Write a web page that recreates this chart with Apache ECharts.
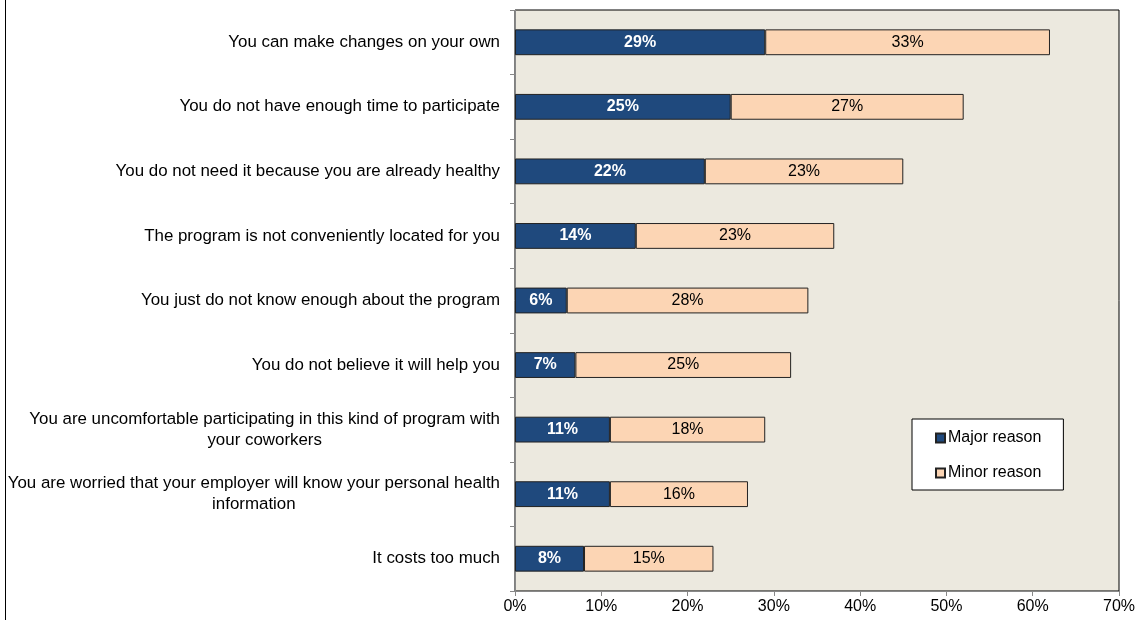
<!DOCTYPE html>
<html><head><meta charset="utf-8">
<script src="https://cdn.jsdelivr.net/npm/echarts@6/dist/echarts.min.js"></script>
<style>html,body{margin:0;padding:0;background:#fff}#c{width:1140px;height:620px}</style>
</head><body><div id="c"></div>
<script>
const categories = [
  "You can make changes on your own",
  "You do not have enough time to participate",
  "You do not need it because you are already healthy",
  "The program is not conveniently located for you",
  "You just do not know enough about the program",
  "You do not believe it will help you",
  "You are uncomfortable participating in this kind of program with\nyour coworkers",
  "You are worried that your employer will know your personal health\ninformation",
  "It costs too much"
];
const majorReason = [29, 25, 22, 14, 6, 7, 11, 11, 8];
const minorReason = [33, 27, 23, 23, 28, 25, 18, 16, 15];
const seriesNames = ["Major reason", "Minor reason"];
const xTicks = [0, 10, 20, 30, 40, 50, 60, 70];

const chart = echarts.init(document.getElementById('c'), null, {renderer: 'canvas'});
const FONT = '"Liberation Sans", Arial, sans-serif';
chart.setOption({
  animation: false,
  textStyle: {fontFamily: FONT},
  graphic: [{type: 'line', shape: {x1: 5.5, y1: 0, x2: 5.5, y2: 620}, style: {stroke: '#000', lineWidth: 1}}],
  grid: {left: 515, right: 21, top: 10, bottom: 29, backgroundColor: '#ECE9DF', show: true, borderColor: '#000', borderWidth: 1},
  legend: {
    orient: 'vertical', left: 912, top: 419,
    padding: [11, 22, 9, 23], itemGap: 19,
    backgroundColor: '#fff', borderColor: '#000', borderWidth: 1,
    itemWidth: 9, itemHeight: 9, icon: 'rect',
    textStyle: {fontSize: 16, color: '#000', fontFamily: FONT, padding: [0, 0, 0, -2]},
    data: seriesNames
  },
  xAxis: {
    type: 'value', min: 0, max: 70, interval: 10,
    axisLine: {show: true, lineStyle: {color: '#888'}},
    axisTick: {show: true, length: 5, lineStyle: {color: '#888'}},
    splitLine: {show: false},
    axisLabel: {fontSize: 16, color: '#000', margin: 8, formatter: v => xTicks.includes(v) ? v + '%' : ''}
  },
  yAxis: {
    type: 'category', inverse: true, data: categories,
    axisLine: {show: true, lineStyle: {color: '#888'}},
    axisTick: {show: true, length: 5, lineStyle: {color: '#888'}},
    axisLabel: {
      fontSize: 16.9, color: '#000', margin: 15,
      formatter: v => v.split('\n').map(s => '{c|' + s + '}').join('\n'),
      rich: {c: {align: 'center', fontSize: 16.9, color: '#000', fontFamily: FONT, lineHeight: 21}}
    }
  },
  series: [
    {
      name: seriesNames[0], type: 'bar', stack: 's', data: majorReason, barWidth: '40%',
      itemStyle: {color: '#1F497D', borderColor: '#222', borderWidth: 1},
      label: {show: true, position: 'inside', formatter: p => p.value + '%', color: '#fff', fontWeight: 'bold', fontSize: 16, fontFamily: FONT}
    },
    {
      name: seriesNames[1], type: 'bar', stack: 's', data: minorReason, barWidth: '40%',
      itemStyle: {color: '#FCD5B4', borderColor: '#222', borderWidth: 1},
      label: {show: true, position: 'inside', formatter: p => p.value + '%', color: '#000', fontSize: 16, fontFamily: FONT}
    }
  ]
});
</script></body></html>
